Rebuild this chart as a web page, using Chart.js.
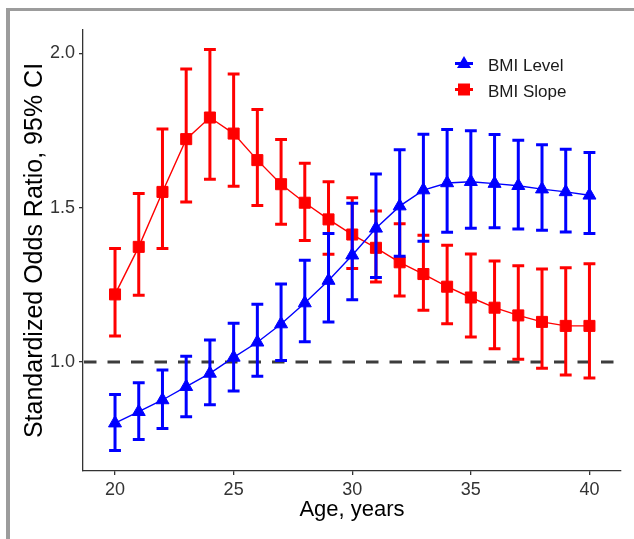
<!DOCTYPE html>
<html>
<head>
<meta charset="utf-8">
<script src="https://cdn.jsdelivr.net/npm/chart.js@4.4.1/dist/chart.umd.min.js"></script>
<style>
  html, body { margin: 0; padding: 0; background: #ffffff; }
  #wrap { position: relative; width: 634px; height: 539px; overflow: hidden; }
  #frame { position: absolute; left: 6px; top: 8px; width: 640px; height: 540px;
           border-top: 3px solid #9c9c9c; border-left: 4px solid #9c9c9c; box-sizing: border-box; }
  #c { position: absolute; left: 0; top: 0; }
</style>
</head>
<body>
<div id="wrap">
  <div id="frame"></div>
  <canvas id="c" width="634" height="539"></canvas>
</div>
<script>
// ---- data ----
const ages = [20,21,22,23,24,25,26,27,28,29,30,31,32,33,34,35,36,37,38,39,40];
const levelOR = [0.802,0.839,0.877,0.920,0.963,1.015,1.064,1.123,1.191,1.264,1.346,1.433,1.505,1.557,1.580,1.584,1.578,1.571,1.560,1.551,1.540];
const levelLo = [0.713,0.749,0.785,0.823,0.862,0.906,0.954,1.005,1.066,1.130,1.202,1.274,1.343,1.391,1.420,1.433,1.435,1.431,1.427,1.421,1.416];
const levelHi = [0.895,0.933,0.974,1.019,1.071,1.126,1.187,1.253,1.330,1.416,1.514,1.609,1.688,1.738,1.753,1.749,1.737,1.718,1.704,1.689,1.679];
const slopeOR = [1.219,1.373,1.551,1.722,1.792,1.740,1.654,1.576,1.516,1.462,1.413,1.370,1.323,1.285,1.244,1.209,1.176,1.151,1.130,1.117,1.117];
const slopeLo = [1.084,1.216,1.368,1.518,1.592,1.569,1.507,1.446,1.394,1.349,1.303,1.259,1.214,1.168,1.124,1.081,1.043,1.009,0.980,0.958,0.948];
const slopeHi = [1.368,1.546,1.755,1.949,2.012,1.933,1.818,1.721,1.644,1.584,1.532,1.489,1.448,1.411,1.378,1.350,1.327,1.312,1.301,1.305,1.318];
const seriesNames = ['BMI Level', 'BMI Slope'];
const xTicks = [20,25,30,35,40];
const yTicks = [1.0,1.5,2.0];
const refValue = 1.0;

const FONT = "'Liberation Sans', Arial, Helvetica, sans-serif";
const BLUE = '#0000ff', RED = '#ff0000';

function pts(ys) { return ages.map((a, i) => ({x: a, y: ys[i]})); }

const errorBars = [
  {lo: levelLo, hi: levelHi, color: BLUE},
  {lo: slopeLo, hi: slopeHi, color: RED}
];

const refLinePlugin = {
  id: 'refLine',
  beforeDatasetsDraw(chart) {
    const {ctx, chartArea, scales} = chart;
    const y = scales.y.getPixelForValue(refValue);
    ctx.save();
    ctx.strokeStyle = '#3c3c3c';
    ctx.lineWidth = 3;
    ctx.setLineDash([12.5, 11]);
    ctx.beginPath();
    ctx.moveTo(chartArea.left + 1, y);
    ctx.lineTo(chartArea.right, y);
    ctx.stroke();
    ctx.restore();
  }
};

const errorBarPlugin = {
  id: 'errBars',
  beforeDatasetDraw(chart, args) {
    const eb = errorBars[args.index];
    if (!eb) return;
    const {ctx, scales} = chart;
    const xs = scales.x, ys = scales.y;
    const half = 0.25;
    ctx.save();
    ctx.strokeStyle = eb.color;
    ctx.lineWidth = 3;
    ctx.lineCap = 'butt';
    ages.forEach((a, i) => {
      const x = xs.getPixelForValue(a);
      const x0 = xs.getPixelForValue(a - half);
      const x1 = xs.getPixelForValue(a + half);
      const yl = ys.getPixelForValue(eb.lo[i]);
      const yh = ys.getPixelForValue(eb.hi[i]);
      ctx.beginPath();
      ctx.moveTo(x, yl); ctx.lineTo(x, yh);
      ctx.moveTo(x0, yl); ctx.lineTo(x1, yl);
      ctx.moveTo(x0, yh); ctx.lineTo(x1, yh);
      ctx.stroke();
    });
    ctx.restore();
  }
};

const legendPlugin = {
  id: 'ggLegend',
  afterDraw(chart) {
    const {ctx} = chart;
    const items = [
      {name: seriesNames[0], color: BLUE, shape: 'tri', y: 63.5},
      {name: seriesNames[1], color: RED, shape: 'sq', y: 89.5}
    ];
    const kx = 464;
    ctx.save();
    items.forEach(it => {
      ctx.strokeStyle = it.color;
      ctx.fillStyle = it.color;
      ctx.lineWidth = 3;
      ctx.beginPath();
      ctx.moveTo(kx - 9, it.y); ctx.lineTo(kx + 9, it.y);
      ctx.stroke();
      ctx.beginPath();
      if (it.shape === 'tri') {
        ctx.moveTo(kx, it.y - 7.5);
        ctx.lineTo(kx + 7, it.y + 4.5);
        ctx.lineTo(kx - 7, it.y + 4.5);
        ctx.closePath();
      } else {
        ctx.rect(kx - 6, it.y - 6, 12, 12);
      }
      ctx.fill();
      ctx.fillStyle = '#1a1a1a';
      ctx.font = '17px ' + FONT;
      ctx.textBaseline = 'alphabetic';
      ctx.textAlign = 'left';
      ctx.fillText(it.name, 488, it.y + 7.8);
    });
    ctx.restore();
  }
};

new Chart(document.getElementById('c'), {
  type: 'line',
  data: {
    datasets: [
      {
        label: seriesNames[0],
        data: pts(levelOR),
        borderColor: BLUE,
        backgroundColor: BLUE,
        borderWidth: 1.4,
        pointStyle: 'triangle',
        pointRadius: 7.5,
        pointBorderWidth: 1,
        pointBackgroundColor: BLUE,
        pointBorderColor: BLUE,
        tension: 0
      },
      {
        label: seriesNames[1],
        data: pts(slopeOR),
        borderColor: RED,
        backgroundColor: RED,
        borderWidth: 1.4,
        pointStyle: 'rect',
        pointRadius: 7.8,
        pointBorderWidth: 1,
        pointBackgroundColor: RED,
        pointBorderColor: RED,
        tension: 0
      }
    ]
  },
  options: {
    responsive: false,
    animation: false,
    devicePixelRatio: 1,
    layout: { padding: { left: 0, right: 13, top: 30, bottom: 0 } },
    plugins: {
      legend: { display: false },
      tooltip: { enabled: false }
    },
    scales: {
      x: {
        type: 'linear',
        min: 18.65,
        max: 41.33,
        afterBuildTicks: s => { s.ticks = xTicks.map(v => ({value: v})); },
        afterFit: s => { s.height = 68; },
        ticks: {
          font: { family: FONT, size: 18 },
          color: '#333333',
          padding: 4,
          maxRotation: 0,
          callback: v => String(v)
        },
        grid: { drawOnChartArea: false, drawTicks: true, tickLength: 4, color: '#333333', lineWidth: 1.3 },
        border: { display: true, color: '#333333', width: 1.3 },
        title: {
          display: true,
          text: 'Age, years',
          color: '#000000',
          font: { family: FONT, size: 22 },
          padding: { top: 0, bottom: 15.5 }
        }
      },
      y: {
        type: 'linear',
        min: 0.647,
        max: 2.0755,
        afterBuildTicks: s => { s.ticks = yTicks.map(v => ({value: v})); },
        afterFit: s => { s.width = 83; },
        ticks: {
          font: { family: FONT, size: 18 },
          color: '#333333',
          padding: 4,
          callback: v => Number(v).toFixed(1)
        },
        grid: { drawOnChartArea: false, drawTicks: true, tickLength: 4, color: '#333333', lineWidth: 1.3 },
        border: { display: true, color: '#333333', width: 1.3 },
        title: {
          display: true,
          text: 'Standardized Odds Ratio, 95% CI',
          color: '#000000',
          font: { family: FONT, size: 25 },
          padding: { top: 20, bottom: 0 }
        }
      }
    }
  },
  plugins: [refLinePlugin, errorBarPlugin, legendPlugin]
});
</script>
</body>
</html>
